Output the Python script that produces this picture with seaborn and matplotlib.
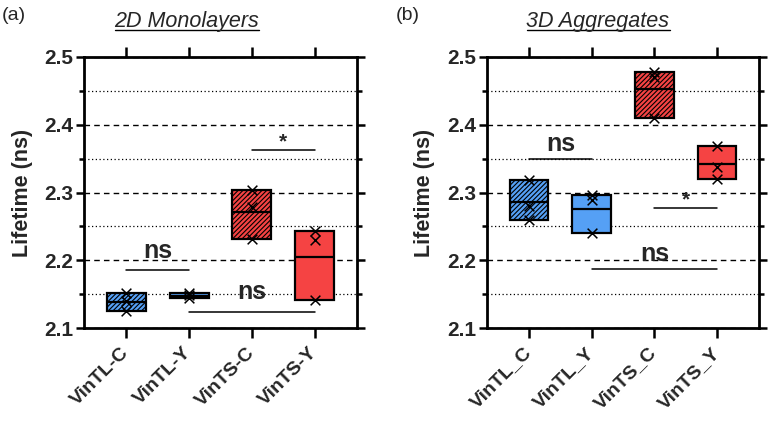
import numpy as np
import pandas as pd
import matplotlib
matplotlib.use("Agg")
import matplotlib.pyplot as plt
from matplotlib.lines import Line2D
import seaborn as sns

# ---------------- data ----------------
cats_2d = ["VinTL-C", "VinTL-Y", "VinTS-C", "VinTS-Y"]
cats_3d = ["VinTL_C", "VinTL_Y", "VinTS_C", "VinTS_Y"]

mono_vintl_c = [2.151, 2.140, 2.125]
mono_vintl_y = [2.151, 2.148, 2.144]
mono_vints_c = [2.303, 2.278, 2.232]
mono_vints_y = [2.243, 2.230, 2.141]

agg_vintl_c = [2.318, 2.280, 2.259]
agg_vintl_y = [2.297, 2.289, 2.240]
agg_vints_c = [2.478, 2.471, 2.4095]
agg_vints_y = [2.368, 2.338, 2.320]

# significance brackets: (from, to, line y, label, label y)
sig_2d = [(0, 1, 2.186, "ns", 2.203), (2, 3, 2.3632, "*", 2.367), (1, 3, 2.124, "ns", 2.143)]
sig_3d = [(0, 1, 2.350, "ns", 2.361), (2, 3, 2.2767, "*", 2.281), (1, 3, 2.1876, "ns", 2.199)]

BLUE = "#55A0F5"
RED = "#F54343"
colors = [BLUE, BLUE, RED, RED]
hatches = ["///////", "", "///////", ""]

sns.set_style("ticks")
plt.rcParams["font.family"] = ["Liberation Sans", "DejaVu Sans"]
plt.rcParams["hatch.linewidth"] = 0.8

W, H = 778, 424
fig = plt.figure(figsize=(W / 100, H / 100), dpi=100)
ax1 = fig.add_axes([84 / W, 1 - 328 / H, 273 / W, 271 / H])
ax2 = fig.add_axes([487 / W, 1 - 328 / H, 272 / W, 271 / H])


def draw(ax, cats, groups, sigs, ylab_x):
    df = pd.DataFrame({"cat": np.repeat(cats, [len(g) for g in groups]),
                       "val": np.concatenate(groups)})
    stats = df.groupby("cat", sort=False)["val"].agg(["min", "max", "mean"]).reindex(cats)
    xpos = np.arange(len(cats))
    bars = ax.bar(xpos, stats["max"] - stats["min"], bottom=stats["min"], width=0.62,
                  color=colors, edgecolor="black", linewidth=1.6, zorder=3)
    for b, h in zip(bars, hatches):
        b.set_hatch(h)
    ax.hlines(stats["mean"], xpos - 0.31, xpos + 0.31, color="black", lw=1.6, zorder=4)
    sns.stripplot(data=df, x="cat", y="val", order=cats, jitter=False, marker="x",
                  color="black", size=7, linewidth=1.1, ax=ax, zorder=5)
    for x0, x1, y, lab, ly in sigs:
        ax.plot([x0, x1], [y, y], color="black", lw=1.1, zorder=6)
        ax.text((x0 + x1) / 2, ly, lab, ha="center", va="baseline",
                fontsize=18 if lab == "ns" else 15, fontweight="bold", zorder=7)

    ax.set_xlim(-0.67, 3.67)
    ax.set_ylim(2.1, 2.5)
    ax.set_xticks(xpos)
    ax.set_xticklabels(cats, rotation=45, ha="right", va="center",
                       rotation_mode="anchor", fontsize=14, fontweight="bold")
    ax.set_yticks([2.1, 2.2, 2.3, 2.4, 2.5])
    ax.set_yticklabels(["2.1", "2.2", "2.3", "2.4", "2.5"], fontsize=15, fontweight="bold")
    ax.set_yticks([2.15, 2.25, 2.35, 2.45], minor=True)
    ax.set_xlabel("")
    ax.set_ylabel("Lifetime (ns)", fontsize=15.5, fontweight="bold")
    ax.yaxis.set_label_coords(ylab_x, 0.5)
    ax.tick_params(axis="y", which="major", left=True, right=True, direction="out",
                   length=6, width=1.8, pad=2, color="black")
    ax.tick_params(axis="y", which="minor", left=True, right=True, direction="out",
                   length=3.5, width=1.8, color="black")
    ax.tick_params(axis="x", which="major", top=True, bottom=True, direction="out",
                   length=7, width=1.8, pad=9, color="black")
    ax.yaxis.grid(True, which="major", linestyle=(0, (4, 3)), color="black", lw=1.0)
    ax.yaxis.grid(True, which="minor", linestyle=(0, (1, 2)), color="black", lw=0.9)
    ax.xaxis.grid(False)
    for s in ax.spines.values():
        s.set_linewidth(2.0)
        s.set_visible(True)
        s.set_color("black")
        s.set_zorder(8)


draw(ax1, cats_2d, [mono_vintl_c, mono_vintl_y, mono_vints_c, mono_vints_y], sig_2d, -0.187)
draw(ax2, cats_3d, [agg_vintl_c, agg_vintl_y, agg_vints_c, agg_vints_y], sig_3d, -0.191)

fig.text(2 / W, 1 - 15 / H, "(a)", ha="left", va="center", fontsize=14)
fig.text(396 / W, 1 - 15 / H, "(b)", ha="left", va="center", fontsize=14)

titles = [fig.text(187 / W, 1 - 27 / H, "2D Monolayers", ha="center", va="baseline",
                   fontsize=15.5, style="italic"),
          fig.text(598 / W, 1 - 27 / H, "3D Aggregates", ha="center", va="baseline",
                   fontsize=15.5, style="italic")]
fig.canvas.draw()
for t in titles:
    bb = t.get_window_extent()
    yline = (H - 30) / H
    fig.add_artist(Line2D([bb.x0 / W, bb.x1 / W], [yline, yline],
                          transform=fig.transFigure, color="black", lw=1.0))

fig.savefig("out.png", dpi=100)
